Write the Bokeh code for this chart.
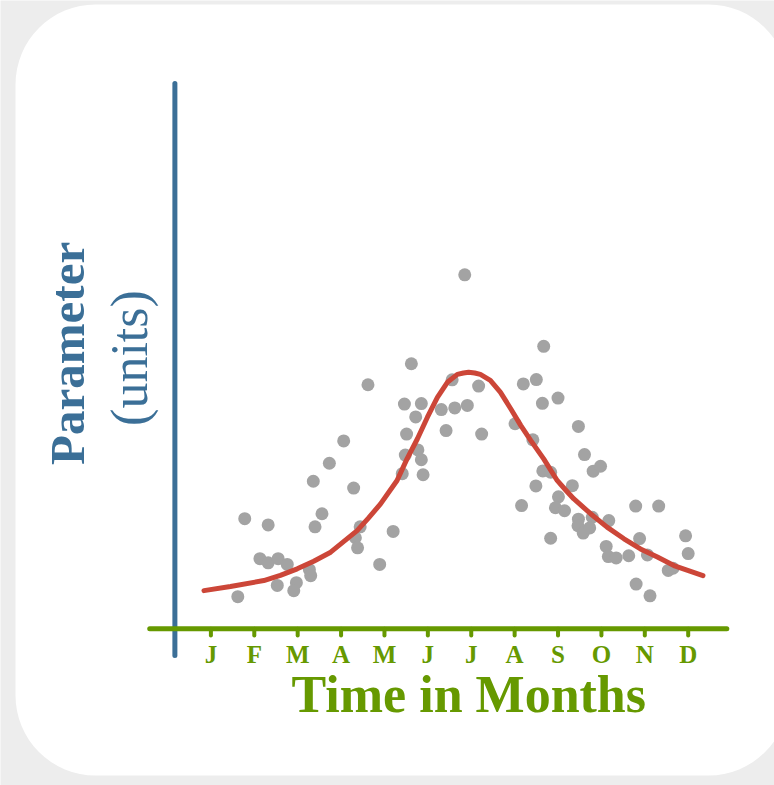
import math
from bokeh.plotting import figure
from bokeh.models import Range1d, BoxAnnotation
from bokeh.core.properties import value
from bokeh.embed import file_html
from bokeh.resources import INLINE

# ---- data -------------------------------------------------------------
months = ["J", "F", "M", "A", "M", "J", "J", "A", "S", "O", "N", "D"]
month_pos = [1, 2, 3, 4, 5, 6, 7, 8, 9, 10, 11, 12]

obs_month = [6.85, 5.62, 4.62, 6.56, 7.17, 5.46, 5.85, 5.72, 6.31, 6.62,
             6.91, 5.51, 6.42, 7.24, 4.06, 3.73, 5.48, 5.77, 5.85, 5.41,
             5.89, 3.36, 4.29, 3.56, 3.40, 4.44, 5.20, 4.33, 4.38, 4.89,
             1.78, 2.32, 2.13, 2.32, 2.55, 2.76, 3.27, 3.30, 2.53, 2.97,
             2.91, 1.62,
             8.67, 8.20, 8.50, 8.64, 9.00, 8.01, 8.42, 9.47, 9.61, 9.81,
             9.98, 8.65, 8.83, 8.49, 9.33, 8.16, 9.01, 8.94, 9.15, 9.47,
             9.79, 9.46, 9.58, 9.73, 10.17, 8.83, 10.79, 11.32, 10.88, 10.11,
             10.16, 10.34, 10.63, 11.06, 11.94, 12.00, 11.54, 11.65, 10.80, 11.12]
obs_value = [12.98, 9.72, 8.95, 9.13, 8.90, 8.24, 8.26, 7.77, 8.04, 8.10,
             8.19, 7.14, 7.27, 7.14, 6.89, 6.07, 6.37, 6.56, 6.20, 5.69,
             5.65, 5.41, 5.16, 4.22, 3.74, 3.74, 3.57, 3.34, 2.97, 2.36,
             4.04, 3.81, 2.57, 2.42, 2.57, 2.36, 2.17, 1.95, 1.59, 1.69,
             1.40, 1.18,
             10.36, 8.98, 9.14, 8.27, 8.46, 7.52, 6.93, 7.42, 6.39, 5.78,
             5.96, 5.79, 5.74, 5.24, 5.25, 4.52, 4.84, 4.44, 4.33, 4.02,
             4.09, 3.78, 3.51, 3.70, 3.97, 3.32, 4.50, 4.50, 3.31, 3.02,
             2.65, 2.60, 2.68, 2.71, 3.41, 2.76, 2.14, 2.22, 1.64, 1.21]

fit_month = [0.84, 1.45, 2.22, 2.60, 2.99, 3.37, 3.76, 4.37, 4.63, 4.91,
             5.29, 5.52, 5.76, 5.99, 6.22, 6.45, 6.68, 6.82, 6.94, 7.08,
             7.21, 7.44, 7.67, 7.91, 8.14, 8.37, 8.67, 8.98, 9.18, 9.36,
             9.75, 10.13, 10.52, 10.90, 11.29, 11.67, 12.34]
fit_value = [1.40, 1.55, 1.77, 1.96, 2.20, 2.48, 2.81, 3.60, 4.06, 4.58,
             5.44, 6.23, 6.97, 7.76, 8.49, 9.04, 9.33, 9.38, 9.41, 9.38,
             9.33, 9.11, 8.68, 8.07, 7.46, 6.91, 6.23, 5.44, 5.08, 4.77,
             4.22, 3.73, 3.30, 2.93, 2.63, 2.32, 1.95]

x_axis_title = "Time in Months"
y_axis_title = "Parameter"
y_axis_units = "(units)"

# ---- styles -----------------------------------------------------------
BLUE = "#3b6f97"
GREEN = "#669900"
RED = "#cc4638"
GRAY = "#a3a3a3"
SERIF = value("Liberation Serif")

W, H = 774, 785
p = figure(width=W, height=H,
           x_range=Range1d(-3.849, 13.989), y_range=Range1d(-5.746, 23.040),
           x_axis_location=None, y_axis_location=None,
           toolbar_location=None, tools="", min_border=0,
           output_backend="svg")
p.grid.visible = False
p.outline_line_color = None
p.background_fill_color = "#ededed"
p.border_fill_color = "#ededed"

# white rounded card
card = BoxAnnotation(left=15, right=788, top=10, bottom=781,
                     left_units="screen", right_units="screen",
                     top_units="screen", bottom_units="screen",
                     fill_color="white", fill_alpha=1.0, line_color=None,
                     border_radius=80, level="underlay")
p.add_layout(card)

# vertical (blue) axis line
p.segment(x0=[0.17], y0=[-0.98], x1=[0.17], y1=[20.0],
          line_color=BLUE, line_width=5, line_cap="round")

# scatter of observations
p.scatter(obs_month, obs_value, size=13, fill_color=GRAY, line_color=None)

# fitted curve
p.line(fit_month, fit_value, line_color=RED, line_width=5,
       line_join="round", line_cap="round")

# horizontal (green) axis line and ticks
p.segment(x0=[-0.41], y0=[0], x1=[12.89], y1=[0],
          line_color=GREEN, line_width=5, line_cap="round")
p.segment(x0=month_pos, y0=[0] * 12, x1=month_pos, y1=[-0.25] * 12,
          line_color=GREEN, line_width=4, line_cap="round")

# month labels
p.text(x=month_pos, y=[-0.93] * 12, text=months,
       text_font=SERIF, text_font_size="25px", text_font_style="bold",
       text_color=GREEN, text_align="center", text_baseline="middle")

# axis titles
p.text(x=[6.944], y=[-2.42], text=[x_axis_title],
       text_font=SERIF, text_font_size="52px", text_font_style="bold",
       text_color=GREEN, text_align="center", text_baseline="middle")
p.text(x=[-2.305], y=[10.1], text=[y_axis_title], angle=math.pi / 2,
       text_font=SERIF, text_font_size="49px", text_font_style="bold",
       text_color=BLUE, text_align="center", text_baseline="middle")
p.text(x=[-0.876], y=[9.93], text=[y_axis_units], angle=math.pi / 2,
       text_font=SERIF, text_font_size="52px", text_font_style="normal",
       text_color=BLUE, text_align="center", text_baseline="middle")

open("out.html", "w").write(file_html(p, INLINE))
